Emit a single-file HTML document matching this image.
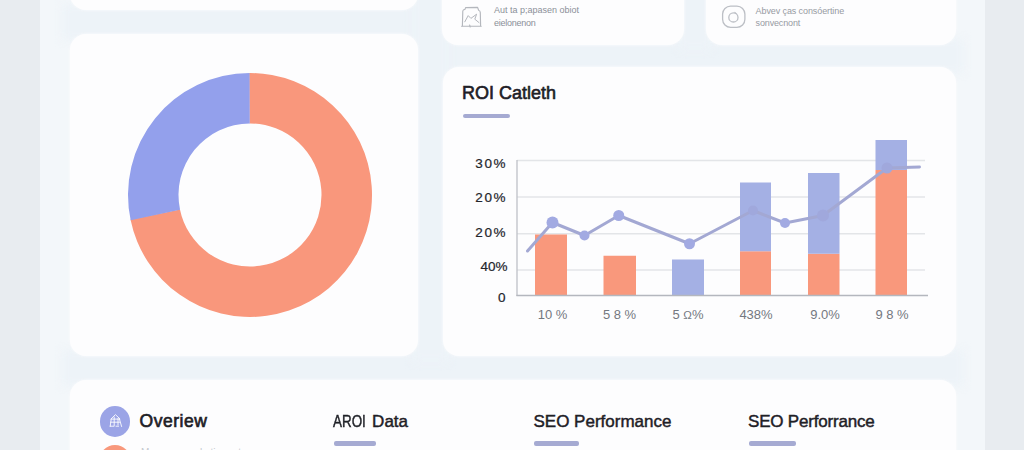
<!DOCTYPE html>
<html>
<head>
<meta charset="utf-8">
<style>
html,body{margin:0;padding:0;}
body{width:1024px;height:450px;overflow:hidden;position:relative;background:#e8ecf0;font-family:"Liberation Sans",sans-serif;}
.abs{position:absolute;}
#panel{left:40px;top:0;width:944.5px;height:450px;background:#f3f7fa;}
.card{position:absolute;background:#fdfdfe;border-radius:16px;box-shadow:0 0 3px 0 rgba(253,253,254,0.9);}
.t{position:absolute;white-space:nowrap;line-height:1;}
.ttl{color:#1e2026;font-size:17px;-webkit-text-stroke:0.45px #1e2026;}
.ul{position:absolute;height:4.4px;border-radius:2px;background:#a5aad2;}
.yl{color:#23252b;font-size:13.5px;text-align:right;width:60px;letter-spacing:1.6px;-webkit-text-stroke:0.2px #23252b;}
.xl{color:#747880;font-size:13px;text-align:center;width:60px;}
.sm{color:#8b9099;font-size:9px;}
</style>
</head>
<body>
<div id="panel" class="abs"></div>

<!-- gap tints -->
<div class="abs" style="left:62px;top:4px;width:364px;height:36px;background:#edf3f8;filter:blur(5px);"></div>
<div class="abs" style="left:434px;top:39px;width:530px;height:34px;background:#edf3f8;filter:blur(5px);"></div>
<div class="abs" style="left:62px;top:350px;width:902px;height:36px;background:#edf3f8;filter:blur(5px);"></div>
<div class="abs" style="left:412px;top:-10px;width:37px;height:372px;background:#edf3f8;filter:blur(5px);"></div>
<div class="abs" style="left:678px;top:-10px;width:34px;height:60px;background:#edf3f8;filter:blur(5px);"></div>

<!-- top cards -->
<div class="card" style="left:70px;top:-30px;width:348px;height:40px;"></div>
<div class="card" style="left:442px;top:-30px;width:242px;height:75px;"></div>
<div class="card" style="left:706px;top:-30px;width:250px;height:75px;"></div>

<!-- donut card -->
<div class="card" style="left:70px;top:34px;width:348px;height:322px;"></div>
<!-- ROI card -->
<div class="card" style="left:443px;top:67px;width:513px;height:289px;"></div>
<!-- bottom card -->
<div class="card" style="left:70px;top:380px;width:886px;height:100px;"></div>

<!-- top card content -->
<svg class="abs" style="left:456px;top:2px" width="30" height="30" viewBox="456 2 30 30" fill="none" stroke="#b4b7bd" stroke-width="1.15" stroke-linecap="round" stroke-linejoin="round">
  <path d="M462.4 25.8 L462.8 11 Q463 9.6 465 9.4 L465.6 7.6 L477.6 7.4 L478.6 10.2 Q480.2 10.6 480.3 12.6 L480.6 25.8"/>
  <path d="M461.6 26.2 L481.2 26.2"/>
  <path d="M464.8 21.8 L468.2 15.6 L470.9 18.4 L476.6 14.2 L474.8 19.2 L479 22.6" stroke-width="1"/>
  <path d="M469.6 25 L470.2 27"/>
</svg>
<div class="t sm" style="left:494px;top:6.2px;">Aut ta p;apasen obiot</div>
<div class="t sm" style="left:494px;top:18.6px;letter-spacing:-0.25px;">eielonenon</div>

<svg class="abs" style="left:718px;top:2px" width="32" height="30" viewBox="718 2 32 30" fill="none" stroke="#bcbfc5" stroke-width="1.3" stroke-linecap="round">
  <rect x="722.6" y="6.1" width="22.3" height="21.2" rx="8" ry="8"/>
  <circle cx="733.4" cy="17.4" r="4.6"/>
  <path d="M734.8 12.4 L736.2 13.6" stroke-width="1.1"/>
</svg>
<div class="t sm" style="left:755.6px;top:6.6px;letter-spacing:-0.1px;color:#979ba3;">Abvev ças consóertine</div>
<div class="t sm" style="left:755.6px;top:19.4px;letter-spacing:-0.15px;color:#979ba3;">sonvecnont</div>

<!-- donut -->
<svg class="abs" style="left:120px;top:65px" width="260" height="260" viewBox="-130 -130 260 260">
  <path d="M-0.85 -122.00 A122 122 0 1 1 -119.51 24.53 L-70.04 14.38 A71.5 71.5 0 1 0 -0.50 -71.50 Z" fill="#f9977c"/>
  <path d="M-119.33 25.37 A122 122 0 0 1 -0.43 -122.00 L-0.25 -71.50 A71.5 71.5 0 0 0 -69.94 14.87 Z" fill="#93a0ec"/>
</svg>

<!-- ROI title -->
<div class="t" style="left:462px;top:84px;font-size:18px;color:#1e2026;-webkit-text-stroke:0.6px #1e2026;">ROI Catleth</div>
<div class="ul" style="left:462.5px;top:113.5px;width:47px;"></div>

<!-- chart -->
<svg class="abs" style="left:440px;top:130px" width="520" height="180" viewBox="440 130 520 180">
  <g stroke="#e3e5e8" stroke-width="1.3">
    <line x1="517" y1="160.5" x2="925" y2="160.5"/>
    <line x1="517" y1="197" x2="925" y2="197"/>
    <line x1="517" y1="233.75" x2="925" y2="233.75"/>
    <line x1="517" y1="270" x2="925" y2="270"/>
  </g>
  <line x1="517" y1="160" x2="517" y2="296" stroke="#bfc1c7" stroke-width="1.3"/>
  <!-- bars -->
  <g fill="#f9987c">
    <rect x="535" y="234.5" width="32" height="61"/>
    <rect x="603.5" y="255.75" width="32.5" height="39.75"/>
    <rect x="740" y="251.25" width="31" height="44.25"/>
    <rect x="808" y="253.75" width="31.5" height="41.75"/>
    <rect x="875.5" y="170" width="31.5" height="125.5"/>
  </g>
  <g fill="#a4b0e4">
    <rect x="672" y="259.5" width="32" height="36"/>
    <rect x="740" y="182.5" width="31" height="68.75"/>
    <rect x="808" y="173" width="31.5" height="80.75"/>
    <rect x="875.5" y="140" width="31.5" height="30"/>
  </g>
  <line x1="516.4" y1="295.5" x2="928" y2="295.5" stroke="#b4b7be" stroke-width="1.5"/>
  <!-- line -->
  <polyline fill="none" stroke="#a3a8d3" stroke-width="3" stroke-linejoin="round" stroke-linecap="round"
    points="527.5,251 552.5,222.5 584.5,235.5 618.75,215.5 689.5,243.75 753,210.5 785,223 823,215.5 887,168 919.5,167"/>
  <g fill="#a2aae2">
    <circle cx="552.5" cy="222.5" r="6"/>
    <circle cx="584.5" cy="235.5" r="5"/>
    <circle cx="618.75" cy="215.5" r="5.5"/>
    <circle cx="689.5" cy="243.75" r="5.5"/>
    <circle cx="753" cy="210.5" r="5" fill="#a0a8dc"/>
    <circle cx="785" cy="223" r="5"/>
    <circle cx="823" cy="215.5" r="6" fill="#a0a8dc"/>
    <circle cx="887" cy="168" r="5.5" fill="#a0a8dc"/>
  </g>
</svg>

<!-- y labels -->
<div class="t yl" style="left:447.2px;top:156.8px;">30%</div>
<div class="t yl" style="left:447.2px;top:191px;">20%</div>
<div class="t yl" style="left:447.2px;top:226px;">20%</div>
<div class="t yl" style="left:447.5px;top:259.8px;letter-spacing:0;">40%</div>
<div class="t yl" style="left:445.5px;top:290.6px;letter-spacing:0;">0</div>

<!-- x labels -->
<div class="t xl" style="left:522.5px;top:308px;">10 %</div>
<div class="t xl" style="left:589.5px;top:308px;">5 8 %</div>
<div class="t xl" style="left:658px;top:308px;">5 <span style="font-size:11.5px">&#937;</span>%</div>
<div class="t xl" style="left:726px;top:308px;">438%</div>
<div class="t xl" style="left:795px;top:308px;">9.0%</div>
<div class="t xl" style="left:862px;top:308px;">9 8 %</div>

<!-- bottom tabs -->
<div class="abs" style="left:99.7px;top:406.2px;width:30.4px;height:30.4px;border-radius:50%;background:#9ba4e6;"></div>
<svg class="abs" style="left:105px;top:411px" width="20" height="20" viewBox="105 411 20 20" fill="none" stroke="#ffffff" stroke-opacity="0.92" stroke-width="0.95" stroke-linecap="round" stroke-linejoin="round">
  <path d="M110.9 419.1 L115.4 414.6 L119.9 418.8"/>
  <path d="M111.6 419.1 L119.4 419.1 M110.6 422.2 L119.6 422.2 M110.2 426.2 L113.6 426.2 M116 426.2 L118.6 426.2"/>
  <path d="M111.2 419.1 L110.2 426.3 M119.4 418.9 L121.6 426.5 M114.2 417 L114.2 426 M118 418.5 L118 425"/>
</svg>
<div class="abs" style="left:98.7px;top:445.3px;width:32px;height:32px;border-radius:50%;background:#f8987c;"></div>

<div class="t" style="left:139.6px;top:412.7px;font-size:17.5px;color:#1e2026;-webkit-text-stroke:0.65px #1e2026;letter-spacing:0.5px;">Overiew</div>
<div class="t" style="left:141px;top:448.2px;font-size:10px;color:#c4c8ce;">Measure marketing returns</div>

<div class="t ttl" style="left:333px;top:412.7px;"><span style="display:inline-block;transform:scaleX(0.79);transform-origin:0 50%;width:34.4px;">AROI</span> Data</div>
<div class="ul" style="left:333.5px;top:441.2px;width:42.5px;"></div>

<div class="t ttl" style="left:533.5px;top:412.7px;">SEO Performance</div>
<div class="ul" style="left:534px;top:441.2px;width:45px;"></div>

<div class="t ttl" style="left:748px;top:412.7px;letter-spacing:-0.2px;">SEO Perforrance</div>
<div class="ul" style="left:749px;top:441.2px;width:47px;"></div>

</body>
</html>
